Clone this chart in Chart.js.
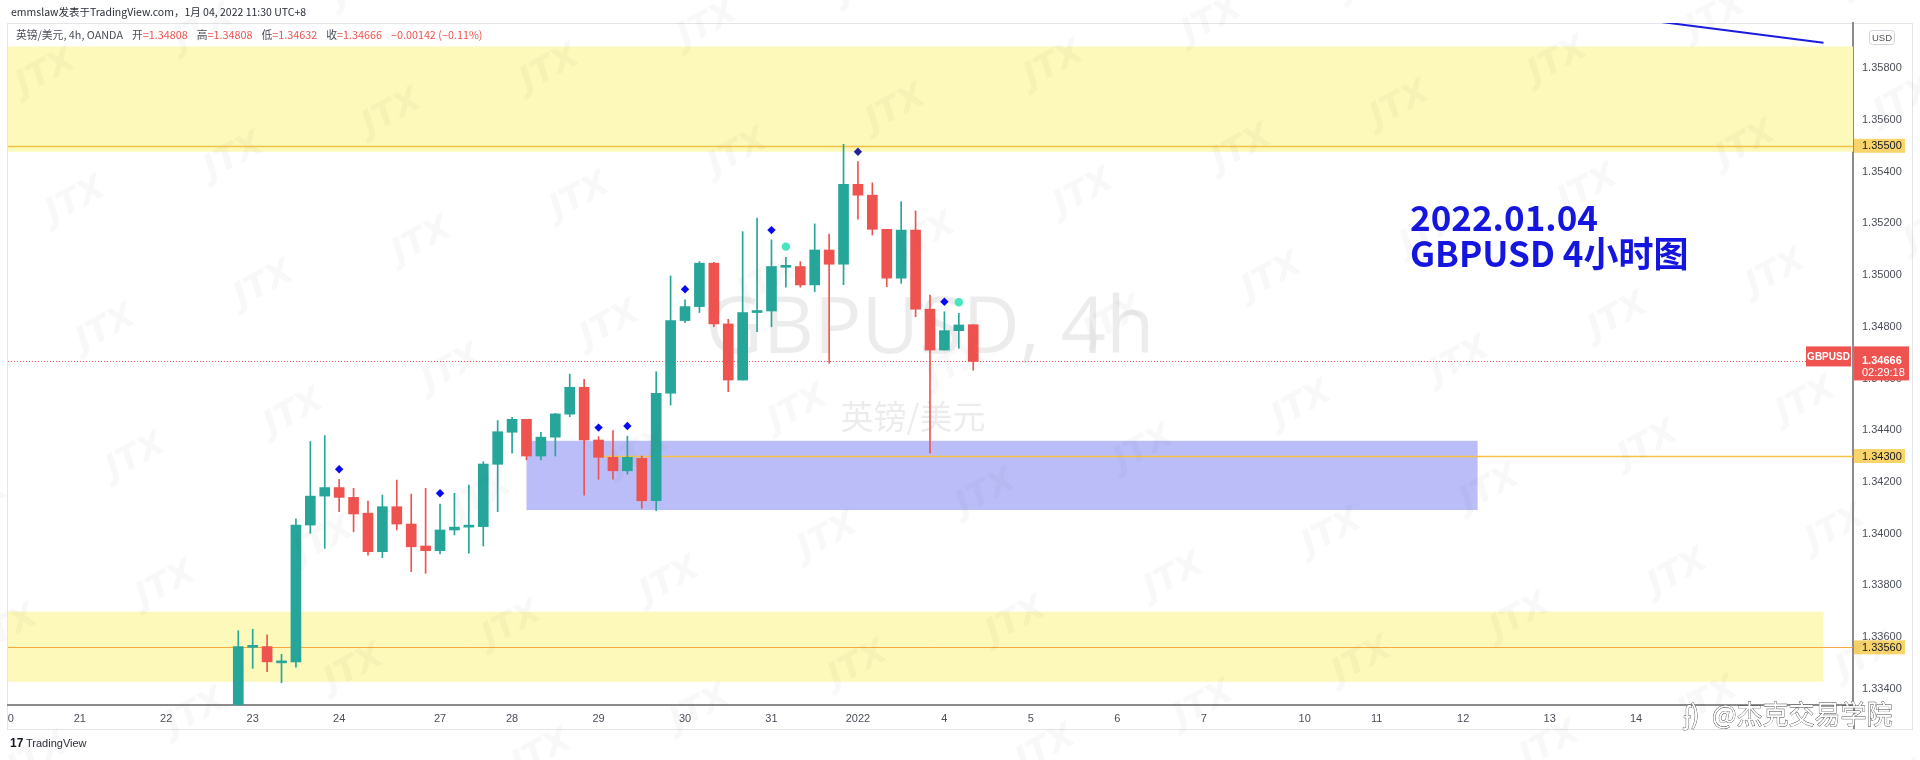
<!DOCTYPE html>
<html><head><meta charset="utf-8">
<script src="https://cdn.jsdelivr.net/npm/chart.js@4.4.0/dist/chart.umd.min.js"></script>
<style>
html,body{margin:0;padding:0;background:#fff;width:1920px;height:760px;overflow:hidden}
#c{position:absolute;left:0;top:0}
</style></head>
<body>
<canvas id="c" width="1920" height="760"></canvas>
<script>
// ---- data (GBPUSD 4h, OANDA) ----
const opens  = [1.33220,1.33560,1.33563,1.33500,1.33504,1.34033,1.34145,1.34178,1.34140,1.34079,1.33930,1.34104,1.34037,1.33952,1.33934,1.34014,1.34025,1.34027,1.34268,1.34392,1.34442,1.34300,1.34373,1.34462,1.34566,1.34362,1.34295,1.34243,1.34291,1.34127,1.34543,1.34824,1.34878,1.35046,1.34811,1.34594,1.34855,1.34861,1.35030,1.35033,1.34962,1.35097,1.35042,1.35351,1.35309,1.35177,1.34988,1.35174,1.34868,1.34710,1.34785,1.34808];
const highs  = [1.33624,1.33630,1.33608,1.33533,1.34057,1.34356,1.34379,1.34210,1.34175,1.34126,1.34149,1.34207,1.34153,1.34175,1.34114,1.34156,1.34188,1.34278,1.34437,1.34450,1.34442,1.34392,1.34465,1.34617,1.34597,1.34375,1.34398,1.34377,1.34300,1.34626,1.34997,1.34904,1.35052,1.35049,1.34829,1.35168,1.35220,1.35136,1.35069,1.35052,1.35198,1.35159,1.35506,1.35439,1.35357,1.35177,1.35284,1.35248,1.34923,1.34858,1.34852,1.34808];
const lows   = [1.33200,1.33479,1.33466,1.33423,1.33483,1.34001,1.33943,1.34085,1.34007,1.33917,1.33907,1.34014,1.33853,1.33846,1.33921,1.33995,1.33924,1.33952,1.34085,1.34311,1.34285,1.34285,1.34300,1.34452,1.34149,1.34210,1.34211,1.34230,1.34098,1.34089,1.34497,1.34816,1.34855,1.34800,1.34549,1.34594,1.34781,1.34800,1.34953,1.34953,1.34936,1.34659,1.34963,1.35216,1.35155,1.34955,1.34968,1.34839,1.34311,1.34710,1.34717,1.34632];
const closes = [1.33563,1.33565,1.33504,1.33504,1.34033,1.34145,1.34178,1.34140,1.34076,1.33930,1.34104,1.34037,1.33949,1.33934,1.34014,1.34025,1.34030,1.34269,1.34394,1.34442,1.34300,1.34373,1.34463,1.34566,1.34362,1.34295,1.34243,1.34295,1.34127,1.34543,1.34824,1.34878,1.35046,1.34811,1.34594,1.34855,1.34862,1.35033,1.35036,1.34962,1.35097,1.35042,1.35351,1.35309,1.35177,1.34988,1.35174,1.34868,1.34710,1.34785,1.34807,1.34666];

// signal markers (bar index, price)
const diamondIdx   = [7, 14, 25, 27, 31, 37, 49];
const diamondPrice = [1.34249, 1.34156, 1.34410, 1.34416, 1.34945, 1.35174, 1.34897];
const navyIdx      = [43];
const navyPrice    = [1.35477];
const circleIdx    = [38, 50];
const circlePrice  = [1.35110, 1.34895];

// time axis: bar index where each day starts, and its label
const dayTickIdx   = [-16,-11,-5,1,7,14,19,25,31,37,43,49,55,61,67,74,79,85,91,97];
const dayTickLabel = ['20','21','22','23','24','27','28','29','30','31','2022','4','5','6','7','10','11','12','13','14'];

// price axis ticks
const priceTicks = [1.334,1.336,1.338,1.340,1.342,1.344,1.346,1.348,1.350,1.352,1.354,1.356,1.358];

// drawings
const supplyZone = [1.35884, 1.35477];          // upper yellow zone (top, bottom)
const demandZone = [1.33698, 1.33427];          // lower yellow zone (top, bottom)
const demandZoneEndIdx = 110;
const blueBox = {fromIdx: 20, toIdx: 86, top: 1.34359, bottom: 1.34091};
const levelLines = [1.35500, 1.33560];
const rayLevel = 1.34300, rayStartIdx = 25;
const trendIdx = [98.6, 110], trendPrice = [1.35980, 1.35899];
const lastPrice = 1.34666;
const hdr = {open:'1.34808', high:'1.34808', low:'1.34632', close:'1.34666', chg:'−0.00142 (−0.11%)'};

// ---- chart ----
const GREEN = '#26a69a', RED = '#ef5350';
const colors = opens.map((o, i) => closes[i] >= o ? GREEN : RED);
const AX = "'Liberation Sans', Arial, sans-serif";
const CJK = "'Noto Sans CJK SC', 'Noto Sans', sans-serif";

function roundRect(ctx, x, y, w, h, r) {
  ctx.beginPath();
  ctx.moveTo(x + r, y); ctx.lineTo(x + w - r, y); ctx.quadraticCurveTo(x + w, y, x + w, y + r);
  ctx.lineTo(x + w, y + h - r); ctx.quadraticCurveTo(x + w, y + h, x + w - r, y + h);
  ctx.lineTo(x + r, y + h); ctx.quadraticCurveTo(x, y + h, x, y + h - r);
  ctx.lineTo(x, y + r); ctx.quadraticCurveTo(x, y, x + r, y); ctx.closePath();
}

const deco = {
  id: 'deco',
  beforeDraw(chart) {
    const ctx = chart.ctx;
    ctx.save();
    ctx.fillStyle = '#fff'; ctx.fillRect(0, 0, chart.width, chart.height);
    ctx.strokeStyle = '#e3e5ea'; ctx.lineWidth = 1;
    ctx.strokeRect(7.5, 23.5, 1905, 706);
    ctx.restore();
  },
  beforeDatasetsDraw(chart) {
    const {ctx, chartArea: a, scales: {x, y}} = chart;
    ctx.save();
    ctx.beginPath(); ctx.rect(a.left, a.top, a.right - a.left, a.bottom - a.top); ctx.clip();
    // symbol watermark
    ctx.fillStyle = 'rgba(0,0,0,0.075)';
    ctx.textAlign = 'center'; ctx.textBaseline = 'middle';
    ctx.font = "79px 'Open Sans', sans-serif";
    ctx.fillText('GBPUSD, 4h', 930, 330);
    ctx.font = "33px " + CJK;
    ctx.fillText('英镑/美元', 913, 416);
    // zones
    ctx.fillStyle = '#fdf9bb';
    ctx.fillRect(a.left, y.getPixelForValue(supplyZone[0]), a.right - a.left,
      y.getPixelForValue(supplyZone[1]) - y.getPixelForValue(supplyZone[0]));
    ctx.fillRect(a.left, y.getPixelForValue(demandZone[0]), x.getPixelForValue(demandZoneEndIdx) - a.left,
      y.getPixelForValue(demandZone[1]) - y.getPixelForValue(demandZone[0]));
    ctx.fillStyle = '#bbbdf8';
    const bx0 = x.getPixelForValue(blueBox.fromIdx), bx1 = x.getPixelForValue(blueBox.toIdx);
    const by0 = y.getPixelForValue(blueBox.top), by1 = y.getPixelForValue(blueBox.bottom);
    ctx.fillRect(bx0, by0, bx1 - bx0, by1 - by0);
    // level lines
    ctx.lineWidth = 1.5;
    ctx.strokeStyle = '#f6c445';
    let py = Math.round(y.getPixelForValue(levelLines[0])) + 0.5;
    ctx.beginPath(); ctx.moveTo(a.left, py); ctx.lineTo(a.right, py); ctx.stroke();
    ctx.strokeStyle = '#f7a83c'; ctx.lineWidth = 1;
    py = Math.round(y.getPixelForValue(levelLines[1])) + 0.5;
    ctx.beginPath(); ctx.moveTo(a.left, py); ctx.lineTo(a.right, py); ctx.stroke();
    ctx.strokeStyle = '#f6c445'; ctx.lineWidth = 1.5;
    py = Math.round(y.getPixelForValue(rayLevel)) + 0.5;
    ctx.beginPath(); ctx.moveTo(x.getPixelForValue(rayStartIdx), py); ctx.lineTo(a.right, py); ctx.stroke();
    // current price dotted line
    ctx.strokeStyle = RED; ctx.lineWidth = 1; ctx.setLineDash([1, 2]);
    py = Math.round(y.getPixelForValue(lastPrice)) + 0.5;
    ctx.beginPath(); ctx.moveTo(a.left, py); ctx.lineTo(a.right, py); ctx.stroke();
    ctx.setLineDash([]);
    // trend line
    ctx.strokeStyle = '#1a1ae0'; ctx.lineWidth = 2;
    ctx.beginPath();
    ctx.moveTo(x.getPixelForValue(trendIdx[0]), y.getPixelForValue(trendPrice[0]));
    ctx.lineTo(x.getPixelForValue(trendIdx[1]), y.getPixelForValue(trendPrice[1]));
    ctx.stroke();
    ctx.restore();
  },
  afterDraw(chart) {
    const {ctx, chartArea: a, scales: {x, y}} = chart;
    ctx.save();
    ctx.fillStyle = '#fff'; ctx.fillRect(0, 700, 7, 40);
    ctx.strokeStyle = '#8c8c8c'; ctx.lineWidth = 2;
    ctx.beginPath(); ctx.moveTo(a.right + 1, a.bottom); ctx.lineTo(a.right + 1, 729); ctx.stroke();

    // annotation text
    ctx.fillStyle = '#1515e0'; ctx.textAlign = 'left'; ctx.textBaseline = 'middle';
    ctx.font = "bold 35px " + CJK;
    ctx.fillText('2022.01.04', 1410, 218);
    ctx.fillText('GBPUSD 4小时图', 1410, 254);

    // price axis labels
    const boxL = a.right + 1, boxW = 51;
    function axisBox(val, bg, fg, txt) {
      const yy = y.getPixelForValue(val);
      ctx.fillStyle = bg; ctx.fillRect(boxL, yy - 7, boxW, 14);
      ctx.fillStyle = fg; ctx.font = "11px " + AX; ctx.textAlign = 'left'; ctx.textBaseline = 'middle';
      ctx.fillText(txt, a.right + 9, yy + 0.5);
    }
    axisBox(levelLines[0], '#f8d46a', '#131722', levelLines[0].toFixed(5));
    axisBox(rayLevel, '#f8d46a', '#131722', rayLevel.toFixed(5));
    axisBox(levelLines[1], '#f8d46a', '#131722', levelLines[1].toFixed(5));
    const ly = y.getPixelForValue(lastPrice);
    ctx.fillStyle = RED; ctx.fillRect(boxL, ly - 15, boxW + 4, 34);
    ctx.fillStyle = '#fff'; ctx.font = "bold 11px " + AX; ctx.textBaseline = 'middle';
    ctx.fillText(lastPrice.toFixed(5), a.right + 9, ly);
    ctx.font = "11px " + AX;
    ctx.fillText('02:29:18', a.right + 9, ly + 12);
    ctx.fillStyle = RED; ctx.fillRect(a.right - 47, ly - 15, 45, 20);
    ctx.fillStyle = '#fff'; ctx.font = "bold 10px " + AX; ctx.textAlign = 'center';
    ctx.fillText('GBPUSD', a.right - 24.5, ly - 4.5);
    ctx.strokeStyle = '#d0d3da'; ctx.lineWidth = 1; ctx.fillStyle = '#fff';
    roundRect(ctx, 1869.5, 30.5, 25, 14, 3); ctx.fill(); ctx.stroke();
    ctx.fillStyle = '#555'; ctx.font = "9.5px " + AX; ctx.textAlign = 'center';
    ctx.fillText('USD', 1882, 38);

    // header line 1
    ctx.textAlign = 'left'; ctx.textBaseline = 'middle';
    ctx.fillStyle = '#2a2e39'; ctx.font = "10.5px " + CJK;
    ctx.fillText('emmslaw发表于TradingView.com，1月 04, 2022 11:30 UTC+8', 11, 12);
    // header line 2
    let hx = 16; const hy = 35;
    ctx.font = "10.8px " + CJK;
    function seg(t, c, gap) { ctx.fillStyle = c; ctx.fillText(t, hx, hy); hx += ctx.measureText(t).width + (gap || 0); }
    seg('英镑/美元, 4h, OANDA', '#4a4e59', 9);
    seg('开', '#4a4e59'); seg('=' + hdr.open, RED, 9);
    seg('高', '#4a4e59'); seg('=' + hdr.high, RED, 9);
    seg('低', '#4a4e59'); seg('=' + hdr.low, RED, 9);
    seg('收', '#4a4e59'); seg('=' + hdr.close, RED, 9);
    seg(hdr.chg, RED);

    // TradingView footer
    ctx.fillStyle = '#131722'; ctx.font = "bold 12px " + AX;
    ctx.fillText('17', 10, 744);
    ctx.font = "11px " + AX; ctx.fillStyle = '#2a2e39';
    ctx.fillText('TradingView', 26, 744);

    // JTX watermarks
    ctx.fillStyle = 'rgba(90,90,90,0.045)';
    ctx.font = "italic bold 34px 'DejaVu Sans', sans-serif";
    ctx.textAlign = 'center';
    for (let p = -12; p <= 12; p++) {
      for (let q = -6; q <= 14; q++) {
        const wx = 580 + 30 * p + 188 * q, wy = 197 + 128 * p + 84 * q;
        if (wx < -60 || wx > 1980 || wy < -40 || wy > 800) continue;
        ctx.save(); ctx.translate(wx, wy); ctx.rotate(-0.5);
        ctx.fillText('JTX', 0, 0); ctx.restore();
      }
    }
    // bottom-right outlined watermark
    ctx.font = "26px " + CJK; ctx.textAlign = 'left';
    ctx.lineWidth = 0.8; ctx.strokeStyle = '#444'; ctx.fillStyle = '#fff';
    ctx.strokeText('ʄ)', 1684, 714); ctx.fillText('ʄ)', 1684, 714);
    ctx.strokeText('@杰克交易学院', 1712, 714); ctx.fillText('@杰克交易学院', 1712, 714);
    ctx.restore();
  }
};

new Chart(document.getElementById('c'), {
  type: 'bar',
  data: {
    datasets: [
      { type: 'scatter', data: diamondIdx.map((v, i) => ({x: v, y: diamondPrice[i]})),
        pointStyle: 'rectRot', pointRadius: 4.2, backgroundColor: '#0a0af0', borderWidth: 0, order: 0 },
      { type: 'scatter', data: navyIdx.map((v, i) => ({x: v, y: navyPrice[i]})),
        pointStyle: 'rectRot', pointRadius: 4.2, backgroundColor: '#23239a', borderWidth: 0, order: 0 },
      { type: 'scatter', data: circleIdx.map((v, i) => ({x: v, y: circlePrice[i]})),
        pointStyle: 'circle', pointRadius: 4.2, backgroundColor: '#45e6bf', borderWidth: 0, order: 0 },
      { type: 'bar', data: opens.map((o, i) => ({x: i, y: [o, closes[i]]})),
        backgroundColor: colors, barThickness: 10, minBarLength: 2, grouped: false, order: 1 },
      { type: 'bar', data: lows.map((l, i) => ({x: i, y: [l, highs[i]]})),
        backgroundColor: colors, barThickness: 1, grouped: false, order: 2 }
    ]
  },
  options: {
    responsive: false, animation: false, events: [],
    layout: {padding: {left: 8, top: 23, right: 8, bottom: 31}},
    plugins: {legend: {display: false}, tooltip: {enabled: false}},
    scales: {
      x: {
        type: 'linear', min: -15.98, max: 112.05, offset: false,
        grid: {display: false, drawTicks: false},
        border: {display: true, color: '#8c8c8c', width: 2},
        afterBuildTicks: s => { s.ticks = dayTickIdx.map(v => ({value: v})); },
        afterFit: s => { s.height = 24; s.paddingLeft = 0; s.paddingRight = 0; },
        ticks: {
          autoSkip: false, maxRotation: 0, padding: 7, color: '#4a4e59',
          font: {family: AX, size: 11},
          callback: (v, i) => dayTickLabel[i]
        }
      },
      y: {
        type: 'linear', position: 'right', min: 1.33337, max: 1.35975,
        grid: {display: false, drawTicks: false},
        border: {display: true, color: '#8c8c8c', width: 2},
        afterBuildTicks: s => { s.ticks = priceTicks.map(v => ({value: v})); },
        afterFit: s => { s.width = 59; s.paddingTop = 0; s.paddingBottom = 0; },
        ticks: {
          padding: 9, color: '#4a4e59', font: {family: AX, size: 11},
          callback: v => v.toFixed(5)
        }
      }
    }
  },
  plugins: [deco]
});
</script>
</body></html>
